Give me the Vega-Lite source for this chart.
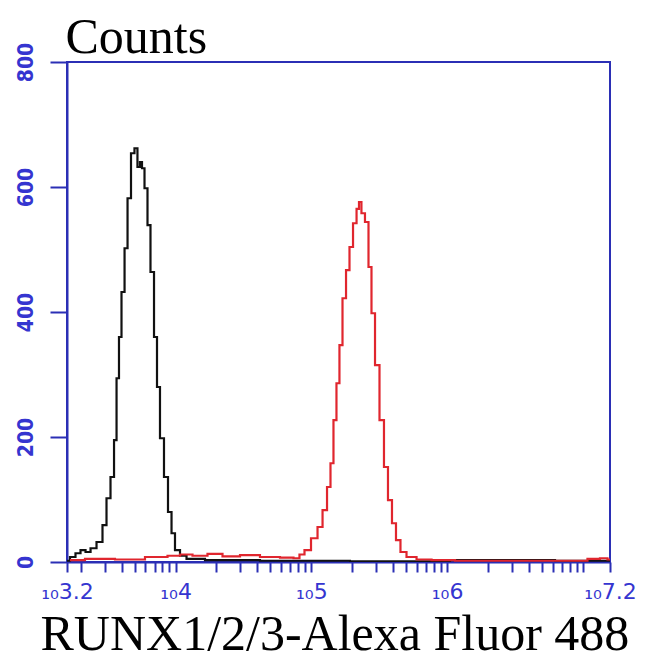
{
  "$schema": "https://vega.github.io/schema/vega-lite/v6.json",
  "autosize": "none",
  "width": 543,
  "height": 500,
  "padding": {"left": 67, "top": 62, "right": 40, "bottom": 108},
  "background": "white",
  "config": {"view": {"stroke": "#2b2fb5", "strokeWidth": 2}},
  "data": {"values": [
    {"sample": "control", "fluor": 1585, "count": 2},
    {"sample": "control", "fluor": 1754, "count": 8},
    {"sample": "control", "fluor": 1910, "count": 14},
    {"sample": "control", "fluor": 2080, "count": 19},
    {"sample": "control", "fluor": 2265, "count": 16},
    {"sample": "control", "fluor": 2466, "count": 22},
    {"sample": "control", "fluor": 2773, "count": 32},
    {"sample": "control", "fluor": 3020, "count": 59},
    {"sample": "control", "fluor": 3177, "count": 102},
    {"sample": "control", "fluor": 3459, "count": 136},
    {"sample": "control", "fluor": 3581, "count": 195},
    {"sample": "control", "fluor": 3767, "count": 294},
    {"sample": "control", "fluor": 3890, "count": 360},
    {"sample": "control", "fluor": 4102, "count": 432},
    {"sample": "control", "fluor": 4315, "count": 502},
    {"sample": "control", "fluor": 4539, "count": 582},
    {"sample": "control", "fluor": 4853, "count": 654},
    {"sample": "control", "fluor": 5105, "count": 662},
    {"sample": "control", "fluor": 5370, "count": 632},
    {"sample": "control", "fluor": 5559, "count": 640},
    {"sample": "control", "fluor": 5754, "count": 630},
    {"sample": "control", "fluor": 6053, "count": 598},
    {"sample": "control", "fluor": 6368, "count": 539},
    {"sample": "control", "fluor": 6699, "count": 464},
    {"sample": "control", "fluor": 7178, "count": 360},
    {"sample": "control", "fluor": 7413, "count": 280},
    {"sample": "control", "fluor": 7943, "count": 198},
    {"sample": "control", "fluor": 8492, "count": 136},
    {"sample": "control", "fluor": 9099, "count": 80},
    {"sample": "control", "fluor": 9572, "count": 46},
    {"sample": "control", "fluor": 10233, "count": 19},
    {"sample": "control", "fluor": 11350, "count": 10},
    {"sample": "control", "fluor": 12764, "count": 5},
    {"sample": "control", "fluor": 21232, "count": 3},
    {"sample": "control", "fluor": 82414, "count": 2},
    {"sample": "control", "fluor": 449780, "count": 1},
    {"sample": "control", "fluor": 2454709, "count": 3},
    {"sample": "control", "fluor": 15848932, "count": 2},
    {"sample": "RUNX", "fluor": 1667, "count": 3},
    {"sample": "RUNX", "fluor": 2773, "count": 5},
    {"sample": "RUNX", "fluor": 4613, "count": 4},
    {"sample": "RUNX", "fluor": 7674, "count": 8},
    {"sample": "RUNX", "fluor": 9908, "count": 10},
    {"sample": "RUNX", "fluor": 11722, "count": 12},
    {"sample": "RUNX", "fluor": 15136, "count": 10},
    {"sample": "RUNX", "fluor": 19498, "count": 13},
    {"sample": "RUNX", "fluor": 25177, "count": 9},
    {"sample": "RUNX", "fluor": 35318, "count": 11},
    {"sample": "RUNX", "fluor": 49545, "count": 8},
    {"sample": "RUNX", "fluor": 69663, "count": 7},
    {"sample": "RUNX", "fluor": 78343, "count": 6},
    {"sample": "RUNX", "fluor": 85310, "count": 12},
    {"sample": "RUNX", "fluor": 92896, "count": 19},
    {"sample": "RUNX", "fluor": 106414, "count": 38},
    {"sample": "RUNX", "fluor": 115878, "count": 56},
    {"sample": "RUNX", "fluor": 126183, "count": 83},
    {"sample": "RUNX", "fluor": 134896, "count": 120},
    {"sample": "RUNX", "fluor": 141906, "count": 158},
    {"sample": "RUNX", "fluor": 149279, "count": 227},
    {"sample": "RUNX", "fluor": 157036, "count": 286},
    {"sample": "RUNX", "fluor": 165196, "count": 347},
    {"sample": "RUNX", "fluor": 174181, "count": 422},
    {"sample": "RUNX", "fluor": 186209, "count": 467},
    {"sample": "RUNX", "fluor": 195884, "count": 504},
    {"sample": "RUNX", "fluor": 209894, "count": 542},
    {"sample": "RUNX", "fluor": 220800, "count": 565},
    {"sample": "RUNX", "fluor": 228034, "count": 576},
    {"sample": "RUNX", "fluor": 239883, "count": 558},
    {"sample": "RUNX", "fluor": 257040, "count": 544},
    {"sample": "RUNX", "fluor": 270396, "count": 472},
    {"sample": "RUNX", "fluor": 284446, "count": 398},
    {"sample": "RUNX", "fluor": 304789, "count": 315},
    {"sample": "RUNX", "fluor": 331131, "count": 227},
    {"sample": "RUNX", "fluor": 354813, "count": 152},
    {"sample": "RUNX", "fluor": 379315, "count": 99},
    {"sample": "RUNX", "fluor": 406443, "count": 62},
    {"sample": "RUNX", "fluor": 434510, "count": 35},
    {"sample": "RUNX", "fluor": 473151, "count": 16},
    {"sample": "RUNX", "fluor": 533335, "count": 8},
    {"sample": "RUNX", "fluor": 665273, "count": 4},
    {"sample": "RUNX", "fluor": 887156, "count": 3},
    {"sample": "RUNX", "fluor": 1475707, "count": 2},
    {"sample": "RUNX", "fluor": 3443499, "count": 2},
    {"sample": "RUNX", "fluor": 9528279, "count": 2},
    {"sample": "RUNX", "fluor": 12274392, "count": 5},
    {"sample": "RUNX", "fluor": 14555341, "count": 6},
    {"sample": "RUNX", "fluor": 15848932, "count": 4}
  ]},
  "mark": {"type": "line", "strokeWidth": 2.2, "interpolate": "step", "clip": true},
  "encoding": {
    "x": {
      "field": "fluor", "type": "quantitative",
      "scale": {"type": "log", "domain": [1584.89, 15848932], "nice": false, "zero": false},
      "axis": {
        "values": [1584.89, 2000, 3000, 4000, 5000, 6000, 7000, 8000, 9000, 10000, 20000, 30000, 40000, 50000, 60000, 70000, 80000, 90000, 100000, 200000, 300000, 400000, 500000, 600000, 700000, 800000, 900000, 1000000, 2000000, 3000000, 4000000, 5000000, 6000000, 7000000, 8000000, 9000000, 10000000, 15848932],
        "labelExpr": "datum.value < 1600 ? '₁₀3.2' : datum.value == 10000 ? '₁₀4' : datum.value == 100000 ? '₁₀5' : datum.value == 1000000 ? '₁₀6' : datum.value > 15000000 ? '₁₀7.2' : ''",
        "labelOverlap": false, "labelFlush": false, "labelBound": false,
        "grid": false,
        "domainColor": "#2b2fb5", "domainWidth": 2,
        "tickColor": "#2b2fb5", "tickWidth": 2, "tickSize": 10,
        "labelColor": "#3535d0", "labelFont": "DejaVu Sans", "labelFontSize": 22,
        "labelPadding": 9,
        "title": "RUNX1/2/3-Alexa Fluor 488",
        "titleFont": "Liberation Serif", "titleFontSize": 50, "titleFontWeight": "normal",
        "titleColor": "black", "titleAnchor": "start", "titleAlign": "left",
        "titleX": -27, "titleY": 87, "titleBaseline": "alphabetic"
      }
    },
    "y": {
      "field": "count", "type": "quantitative",
      "scale": {"domain": [0, 800], "nice": false},
      "axis": {
        "values": [0, 200, 400, 600, 800],
        "grid": false,
        "domainColor": "#2b2fb5", "domainWidth": 2,
        "tickColor": "#2b2fb5", "tickWidth": 2, "tickSize": 17,
        "labelColor": "#3535d0", "labelFont": "DejaVu Sans Condensed, DejaVu Sans", "labelFontSize": 21,
        "labelFontWeight": "bold", "labelAngle": -90, "labelPadding": 14,
        "labelAlign": "center", "labelBaseline": "bottom",
        "title": "Counts",
        "titleFont": "Liberation Serif", "titleFontSize": 50, "titleFontWeight": "normal",
        "titleColor": "black", "titleAngle": 0, "titleAlign": "left", "titleBaseline": "alphabetic",
        "titleX": -2, "titleY": -10
      }
    },
    "color": {
      "field": "sample", "type": "nominal",
      "scale": {"domain": ["control", "RUNX"], "range": ["#111111", "#e0262e"]},
      "legend": null
    }
  }
}
